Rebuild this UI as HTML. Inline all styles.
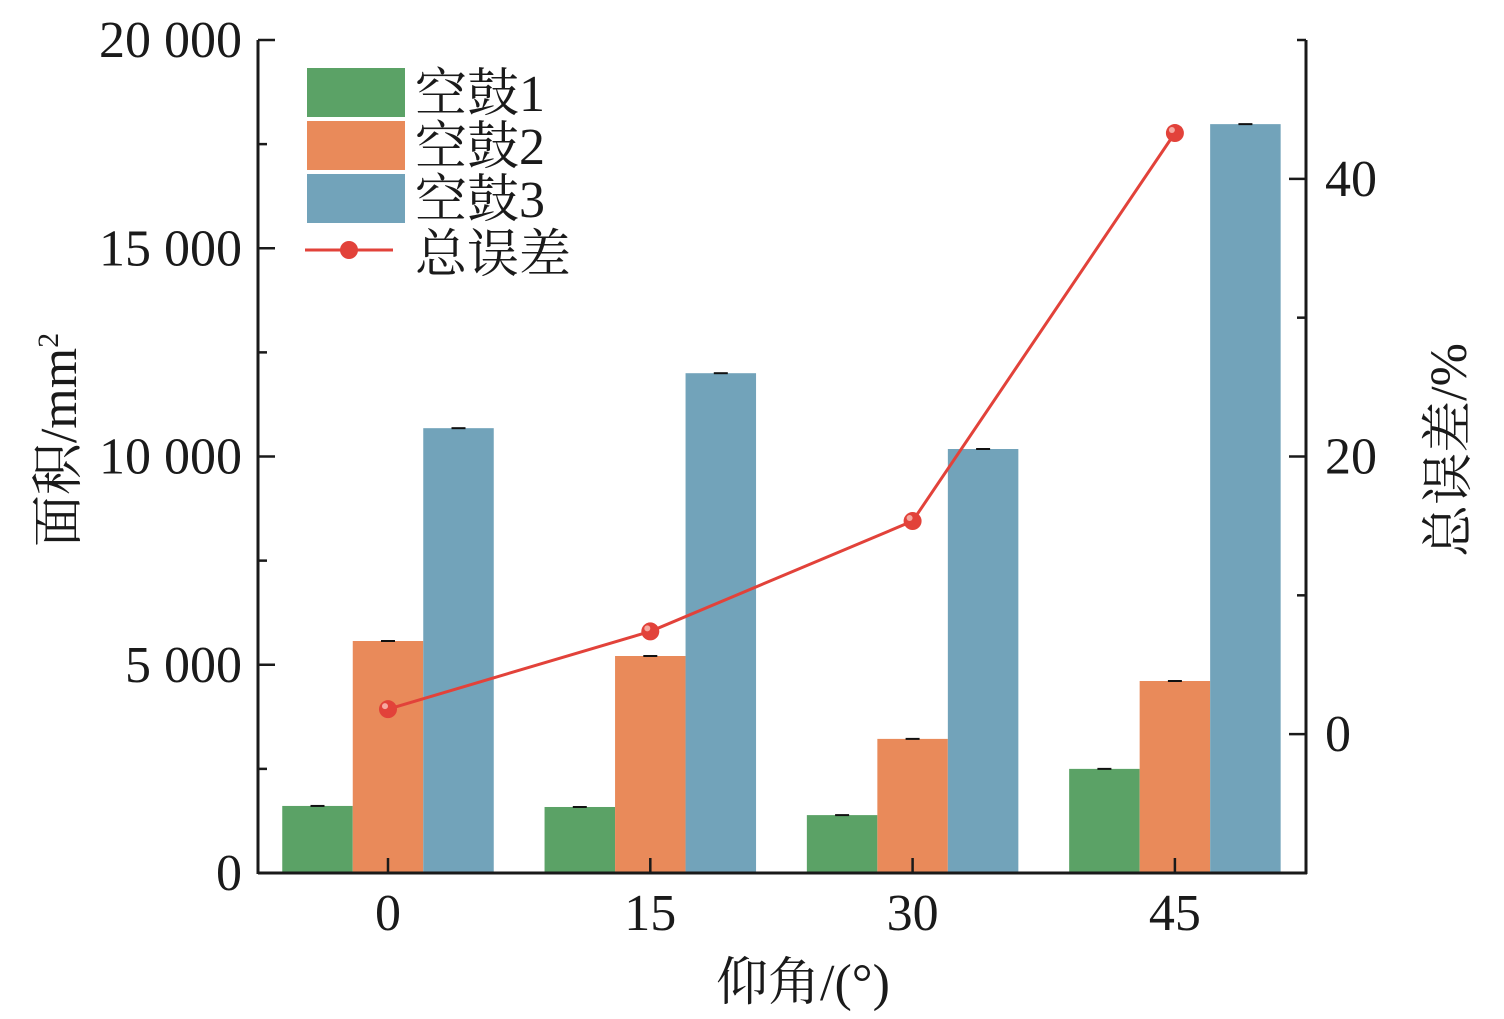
<!DOCTYPE html>
<html><head><meta charset="utf-8"><style>
body{margin:0;background:#fff;}
svg text{font-family:"Liberation Serif","Noto Serif CJK SC",serif;fill:#1a1a1a;}
</style></head><body>
<svg id="chart" width="1504" height="1014" xmlns="http://www.w3.org/2000/svg">
<g id="bars"></g>
<g id="line"></g>
<g id="axes"></g>
<g id="legend"></g>
</svg>
<script>
const categories=["0","15","30","45"];
const hollow1=[1610,1585,1390,2500];
const hollow2=[5570,5210,3220,4610];
const hollow3=[10680,12000,10180,17980];
const totalError=[1.8,7.4,15.35,43.3];
const leftTicks=[0,5000,10000,15000,20000];
const leftTickLabels=["0","5 000","10 000","15 000","20 000"];
const rightTicks=[0,20,40];

const NS="http://www.w3.org/2000/svg";
const L=258,R=1306,T=40,B=873;
function yL(v){return B-(v/20000)*(B-T);}
function yR(v){return B-((v+10)/60)*(B-T);}
function xC(i){return 388+i*262.3;}
function mk(tag,attrs,parent,text){const e=document.createElementNS(NS,tag);for(const k in attrs)e.setAttribute(k,attrs[k]);if(text!==undefined)e.textContent=text;parent.appendChild(e);return e;}
const bars=document.getElementById('bars'),line=document.getElementById('line'),axes=document.getElementById('axes'),legend=document.getElementById('legend');
const series=[hollow1,hollow2,hollow3],colors=["#5ba266","#e98a5a","#72a3ba"],bw=70.5;
series.forEach((s,si)=>{s.forEach((v,i)=>{
 const x=xC(i)+(si-1)*bw-bw/2;
 const r=mk('rect',{x:x,y:yL(v),width:bw,height:B-yL(v),fill:colors[si]},bars);
 
 
 const eb=mk('line',{x1:x+bw/2-7,x2:x+bw/2+7,y1:yL(v),y2:yL(v),stroke:'#111','stroke-width':2},bars);
 
 
});});
mk('line',{x1:L,y1:T,x2:L,y2:B+1,stroke:'#1a1a1a','stroke-width':3},axes);
mk('line',{x1:R,y1:T,x2:R,y2:B+1,stroke:'#1a1a1a','stroke-width':3},axes);
mk('line',{x1:L,y1:B,x2:R+1,y2:B,stroke:'#1a1a1a','stroke-width':3},axes);
for(let v=0;v<=20000;v+=2500){const maj=v%5000===0;mk('line',{x1:L,x2:L+(maj?17:9),y1:yL(v),y2:yL(v),stroke:'#1a1a1a','stroke-width':2.5},axes);}
leftTicks.forEach((v,i)=>{const t=mk('text',{x:242,y:yL(v)+17,'text-anchor':'end','font-size':52},axes,leftTickLabels[i]);});
for(let v=-10;v<=50;v+=10){const maj=v%20===0;mk('line',{x1:R,x2:R-(maj?17:9),y1:yR(v),y2:yR(v),stroke:'#1a1a1a','stroke-width':2.5},axes);}
rightTicks.forEach(v=>{const t=mk('text',{x:1325,y:yR(v)+17,'font-size':52},axes,String(v));});
categories.forEach((c,i)=>{mk('line',{x1:xC(i),x2:xC(i),y1:B,y2:B-15,stroke:'#1a1a1a','stroke-width':2.5},axes);const t=mk('text',{x:xC(i),y:930,'text-anchor':'middle','font-size':52},axes,c);});
let t=mk('text',{x:803,y:1000,'text-anchor':'middle','font-size':52},axes,'仰角/(°)');
t=mk('text',{transform:'translate(76,440) rotate(-90)','text-anchor':'middle','font-size':52},axes,'');
t.innerHTML='面积/mm<tspan dy="-18" font-size="30">2</tspan>';
t=mk('text',{transform:'translate(1466,450) rotate(-90)','text-anchor':'middle','font-size':52},axes,'总误差/%');
totalError.forEach((v,i)=>{});
mk('polyline',{points:totalError.map((v,i)=>xC(i)+','+yR(v)).join(' '),fill:'none',stroke:'#e2423a','stroke-width':3},line);
totalError.forEach((v,i)=>{const c=mk('circle',{cx:xC(i),cy:yR(v),r:9,fill:'#e2423a'},line);mk('circle',{cx:xC(i)-3,cy:yR(v)-3,r:3,fill:'#f6a8a0'},line);});
const names=['空鼓1','空鼓2','空鼓3'];
names.forEach((n,i)=>{const y=68+i*53;const r=mk('rect',{x:307,y:y,width:98,height:49,fill:colors[i]},legend);const tx=mk('text',{x:415,y:y+43,'font-size':52},legend,n);});
mk('line',{x1:305,x2:393,y1:250,y2:250,stroke:'#e2423a','stroke-width':3},legend);
mk('circle',{cx:349,cy:250,r:9,fill:'#e2423a'},legend);
t=mk('text',{x:415,y:272,'font-size':52},legend,'总误差');
</script>
</body></html>
